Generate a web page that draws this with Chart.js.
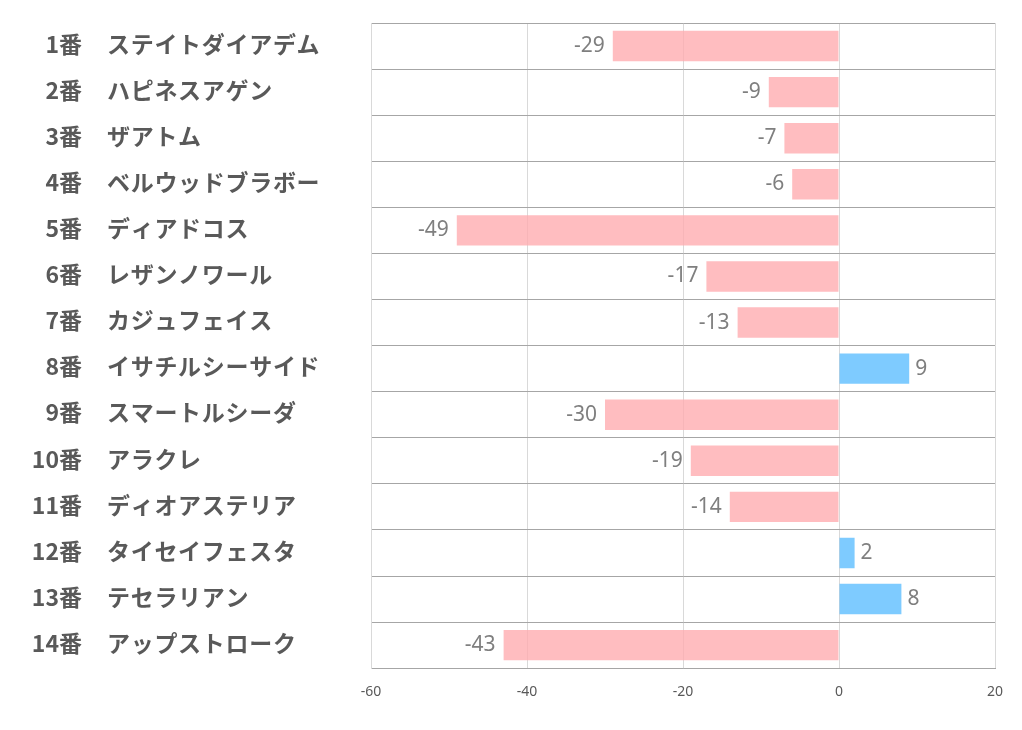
<!DOCTYPE html>
<html>
<head>
<meta charset="utf-8">
<script src="https://cdn.jsdelivr.net/npm/chart.js@4"></script>
<style>
  html, body { margin: 0; padding: 0; background: #fff; }
  #wrap { width: 1022px; height: 730px; }
</style>
</head>
<body>
<div id="wrap"><canvas id="myChart" width="1022" height="730"></canvas></div>
<script>
const ctx = document.getElementById('myChart');

const numbers = ["1番", "2番", "3番", "4番", "5番", "6番", "7番",
    "8番", "9番", "10番", "11番", "12番", "13番", "14番"];
const horses = ["ステイトダイアデム", "ハピネスアゲン", "ザアトム", "ベルウッドブラボー",
    "ディアドコス", "レザンノワール", "カジュフェイス", "イサチルシーサイド",
    "スマートルシーダ", "アラクレ", "ディオアステリア", "タイセイフェスタ",
    "テセラリアン", "アップストローク"];
const values = [-29, -9, -7, -6, -49, -17, -13, 9, -30, -19, -14, 2, 8, -43];
const xTicks = [-60, -40, -20, 0, 20];

// 番号は右揃え、馬名は左揃えで描く
const rowLabels = {
    id: 'rowLabels',
    afterDraw(chart) {
        const c = chart.ctx;
        const y = chart.scales.y;
        c.save();
        c.fillStyle = '#595959';
        c.font = 'bold 23px "Noto Sans CJK JP"';
        c.textBaseline = 'middle';
        numbers.forEach((n, i) => {
            const py = y.getPixelForValue(i) - 2;
            c.letterSpacing = '0px';
            c.textAlign = 'right';
            c.fillText(n, 82, py);
            c.letterSpacing = '0.7px';
            c.textAlign = 'left';
            c.fillText(horses[i], 107, py);
        });
        c.restore();
    }
};

const valueLabels = {
    id: 'valueLabels',
    afterDatasetsDraw(chart) {
        const c = chart.ctx;
        const meta = chart.getDatasetMeta(0);
        c.save();
        c.fillStyle = '#7f7f7f';
        c.font = '21px "Noto Sans"';
        c.textBaseline = 'middle';
        meta.data.forEach((bar, i) => {
            const v = values[i];
            if (v < 0) {
                c.textAlign = 'right';
                c.fillText(String(v), bar.x - 8, bar.y);
            } else {
                c.textAlign = 'left';
                c.fillText(String(v), bar.x + 6, bar.y);
            }
        });
        c.restore();
    }
};

new Chart(ctx, {
    type: 'bar',
    data: {
        labels: horses,
        datasets: [{
            data: values,
            backgroundColor: values.map(v => v < 0 ? 'rgba(255, 170, 174, 0.78)' : 'rgba(94, 190, 255, 0.8)'),
            borderWidth: 0,
            barPercentage: 0.66,
            categoryPercentage: 1
        }]
    },
    options: {
        indexAxis: 'y',
        responsive: false,
        animation: false,
        layout: { padding: { left: 371, right: 27, top: 23, bottom: 15 } },
        plugins: {
            legend: { display: false },
            tooltip: { enabled: false }
        },
        scales: {
            x: {
                min: xTicks[0],
                max: xTicks[xTicks.length - 1],
                afterBuildTicks: (axis) => { axis.ticks = xTicks.map(v => ({ value: v })); },
                grid: { color: '#d9d9d9', drawTicks: false },
                border: { color: '#a6a6a6' },
                ticks: {
                    color: '#595959',
                    font: { family: 'Noto Sans', size: 14 },
                    padding: 15
                }
            },
            y: {
                grid: { color: '#a6a6a6', drawTicks: false, offset: true },
                border: { color: '#d9d9d9' },
                ticks: { display: false }
            }
        }
    },
    plugins: [rowLabels, valueLabels]
});
</script>
</body>
</html>
